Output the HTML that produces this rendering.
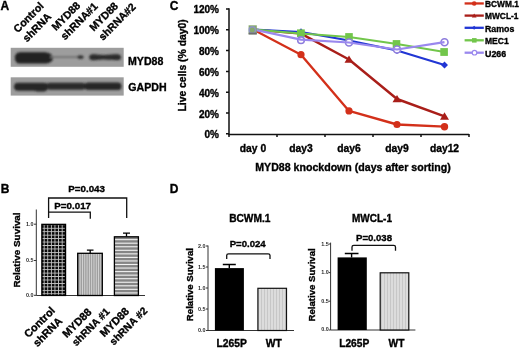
<!DOCTYPE html>
<html><head><meta charset="utf-8">
<style>
html,body{margin:0;padding:0;background:#fff;}
body{width:520px;height:348px;overflow:hidden;}
svg{display:block;will-change:transform;}
text{font-family:"Liberation Sans",sans-serif;font-weight:bold;fill:#000;stroke:#000;stroke-width:0.35px;}
.tk text{font-weight:bold;stroke:none;fill:#2a2a2a;}
</style></head><body>
<svg width="520" height="348" viewBox="0 0 520 348">
<defs>
  <filter id="blur1" x="-20%" y="-50%" width="140%" height="200%"><feGaussianBlur stdDeviation="0.9"/></filter>
  <filter id="blur2" x="-20%" y="-50%" width="140%" height="200%"><feGaussianBlur stdDeviation="0.6"/></filter>
  <pattern id="grid" x="40.1" y="224.35" width="3.6" height="3.45" patternUnits="userSpaceOnUse">
    <rect width="3.6" height="3.45" fill="#c4c4c4"/>
    <rect x="0.9" y="0.9" width="2.7" height="2.55" fill="#080808"/>
  </pattern>
  <pattern id="vstripe" x="79.2" y="0" width="2.35" height="10" patternUnits="userSpaceOnUse">
    <rect width="2.35" height="10" fill="#a0a0a0"/>
    <rect x="0" width="0.9" height="10" fill="#d2d2d2"/>
  </pattern>
  <pattern id="hstripe" x="0" y="238.6" width="10" height="3.6" patternUnits="userSpaceOnUse">
    <rect width="10" height="3.6" fill="#888"/>
    <rect y="0.5" width="10" height="1" fill="#eee"/>
  </pattern>
  <pattern id="vlight" x="0" y="0" width="3" height="10" patternUnits="userSpaceOnUse">
    <rect width="3" height="10" fill="#dcdcdc"/>
    <rect x="0" width="0.8" height="10" fill="#c2c2c2"/>
  </pattern>
</defs>

<!-- ============ Panel A ============ -->
<text x="0.6" y="9.7" font-size="12">A</text>
<g font-size="10.6">
  <g transform="translate(17.8,33.2) rotate(-45)"><text x="0" y="0">Control</text><text x="0" y="13">shRNA</text></g>
  <g transform="translate(55.9,31.2) rotate(-45)"><text x="0" y="0">MYD88</text><text x="0" y="13">shRNA#1</text></g>
  <g transform="translate(93.8,31.7) rotate(-45)"><text x="0" y="0">MYD88</text><text x="0" y="13">shRNA#2</text></g>
</g>
<!-- blots -->
<rect x="10.7" y="47.8" width="113" height="19" fill="#9d9d9d"/>
<rect x="10.7" y="77.3" width="113" height="18.3" fill="#9d9d9d"/>
<g filter="url(#blur1)">
  <path d="M20,52.2 H45 C50,52.4 53,55.5 53,58 C53,60.5 50,63.4 45,63.6 H20 C16.6,63.6 14.8,60.8 14.8,57.9 C14.8,55 16.6,52.2 20,52.2Z" fill="#202020"/>
  <rect x="50" y="56.2" width="30" height="1.8" fill="#707070"/>
  <ellipse cx="80.5" cy="57.1" rx="3.2" ry="1.9" fill="#333"/>
  <path d="M92.5,54.2 C96,54.1 98,54.7 104,54.9 C110,54.8 113,54.3 117.5,54.3 C120,54.2 121,55.8 121,57.2 C121,58.8 120,60.2 117.5,60.2 C113,60.2 110,59.6 104,59.5 C98,59.6 96,60.3 92.5,60.3 C90.3,60.2 89.2,58.8 89.2,57.2 C89.2,55.6 90.3,54.2 92.5,54.2Z" fill="#2a2a2a"/>
  <rect x="14" y="82.8" width="34" height="8" rx="4" fill="#262626"/>
  <rect x="34" y="85.5" width="13" height="6" rx="3" fill="#262626"/>
  <rect x="46.5" y="82.8" width="39" height="7" rx="3" fill="#2a2a2a"/>
  <rect x="84.5" y="82.6" width="37" height="7.4" rx="3.5" fill="#262626"/>
</g>
<text x="128" y="64.5" font-size="10.6">MYD88</text>
<text x="128.3" y="90.6" font-size="10.6">GAPDH</text>

<!-- ============ Panel C ============ -->
<text x="169.8" y="9.5" font-size="12">C</text>
<text transform="translate(186.3,65.4) rotate(-90)" text-anchor="middle" font-size="10.4">Live cells (% day0)</text>
<g font-size="10" text-anchor="end">
  <text x="219" y="13.1">120%</text>
  <text x="219" y="34">100%</text>
  <text x="219" y="54.8">80%</text>
  <text x="219" y="75.7">60%</text>
  <text x="219" y="96.6">40%</text>
  <text x="219" y="117.5">20%</text>
  <text x="219" y="138.4">0%</text>
</g>
<g stroke="#111" stroke-width="1.5" fill="none">
  <path d="M229,8.3 V134.5 H469"/>
  <path d="M226,9 H229 M226,29.8 H229 M226,50.6 H229 M226,71.4 H229 M226,92.2 H229 M226,113 H229 M226,133.8 H229"/>
  <path d="M229,134 V137 M277,134 V137 M325,134 V137 M373,134 V137 M421,134 V137 M469,134 V137"/>
</g>
<g font-size="10.3" text-anchor="middle">
  <text x="253" y="151.7">day 0</text>
  <text x="301" y="151.7">day3</text>
  <text x="349" y="151.7">day6</text>
  <text x="397" y="151.7">day9</text>
  <text x="444.5" y="151.7">day12</text>
</g>
<text x="353" y="171" font-size="10.6" text-anchor="middle">MYD88 knockdown (days after sorting)</text>

<!-- series -->
<g fill="none" stroke-width="2.2" stroke-linejoin="round">
  <polyline points="253,29.5 301,54.7 349,110.9 397,124.5 444.5,126.7" stroke="#d3301a" stroke-width="2.35"/>
  <polyline points="253,29.5 301,33.6 349,59.5 397,99 444.5,116.3" stroke="#a91e19" stroke-width="2.4"/>
  <polyline points="253,29.5 301,32 349,40.5 397,50.5 444.5,65" stroke="#2136d4"/>
  <polyline points="253,29.5 301,33.5 349,37 397,44 444.5,52" stroke="#72c64b"/>
</g>
<g fill="#d3301a">
  <circle cx="301" cy="54.7" r="3.6"/>
  <circle cx="349" cy="110.9" r="3.6"/>
  <circle cx="397" cy="124.5" r="3.6"/>
  <circle cx="444.5" cy="126.7" r="3.7"/>
</g>
<path d="M349,55.4 L353.5,62.8 344.5,62.8Z M397,95 L401.5,102.2 392.5,102.2Z M444.5,112.3 L449,119.8 440,119.8Z" fill="#a91e19"/>
<path d="M444.5,61.5 L448,65 444.5,68.5 441,65Z M397,47 L400.5,50.5 397,54 393.5,50.5Z M301,28.3 L304.5,32 301,35.5 297.5,32Z" fill="#2136d4"/>
<g fill="#72c64b">
  <rect x="440.3" y="48.1" width="7.6" height="7.8"/>
  <rect x="392.7" y="40.1" width="7.6" height="7.8"/>
  <rect x="345.2" y="33.1" width="7.6" height="7.8"/>
  <rect x="297" y="29.4" width="7.8" height="7.6"/>
</g>
<g fill="#fff" stroke="#8d7cdc" stroke-width="1.6">
  <circle cx="444.5" cy="42.2" r="3.5"/>
  <circle cx="397" cy="49.5" r="3.5"/>
  <circle cx="349" cy="42.5" r="3.5"/>
  <circle cx="301" cy="40.2" r="3.3"/>
</g>
<polyline points="253,29.5 301,39.7 349,42.5 397,49.5 444.5,42.2" stroke="#9a88ee" fill="none" stroke-width="2.2" stroke-linejoin="round"/>
<g>
<rect x="248.6" y="25.3" width="8.2" height="9" fill="#86a86c"/>
<circle cx="252.3" cy="30" r="3.2" fill="none" stroke="#8f8fd8" stroke-width="1.4" opacity="0.8"/>
<rect x="248.6" y="32.6" width="8.2" height="1.9" fill="#6e6e72"/>
</g>
<!-- legend -->
<g stroke-width="2.3">
  <line x1="464.6" y1="3.45" x2="483.8" y2="3.45" stroke="#d3301a"/>
  <line x1="464.6" y1="15.6" x2="483.8" y2="15.6" stroke="#a91e19"/>
  <line x1="464.6" y1="27.8" x2="483.8" y2="27.8" stroke="#2136d4"/>
  <line x1="464.6" y1="40.3" x2="483.8" y2="40.3" stroke="#72c64b"/>
  <line x1="464.6" y1="52.7" x2="483.8" y2="52.7" stroke="#9a88ee"/>
</g>
<circle cx="474.2" cy="3.45" r="2.3" fill="#d3301a"/>
<path d="M474.2,13.6 L476.6,17.6 471.8,17.6Z" fill="#a91e19"/>
<path d="M474.1,25.8 L476.1,27.8 474.1,29.8 472.1,27.8Z" fill="#2136d4"/>
<rect x="472" y="38.1" width="4.6" height="4.5" fill="#72c64b"/>
<circle cx="474.5" cy="52.7" r="2.3" fill="#fff" stroke="#9a88ee" stroke-width="1.2"/>
<g font-size="8.9">
  <text transform="translate(485,6.9) scale(0.94,1)">BCWM.1</text>
  <text transform="translate(485,19.4) scale(0.94,1)">MWCL-1</text>
  <text transform="translate(485,32) scale(0.99,1)">Ramos</text>
  <text transform="translate(485,44.4) scale(0.96,1)">MEC1</text>
  <text transform="translate(485,56.8) scale(1,1)">U266</text>
</g>

<!-- ============ Panel B ============ -->
<text x="0.7" y="192.6" font-size="12">B</text>
<text x="86.6" y="191.6" font-size="9.8" text-anchor="middle">P=0.043</text>
<text x="72.7" y="208.5" font-size="9.8" text-anchor="middle">P=0.017</text>
<g stroke="#111" stroke-width="1.3" fill="none">
  <path d="M48.6,218 V198 H126.7 V218"/>
  <path d="M48.6,212.2 H90.3 V218.7"/>
</g>
<text transform="translate(19.9,250) rotate(-90)" text-anchor="middle" font-size="9.9">Relative Suvival</text>
<g class="tk" font-size="5.4" text-anchor="end">
  <text x="33.5" y="226">1.0</text>
  <text x="33.5" y="262.3">0.5</text>
  <text x="33.5" y="297.3">0.0</text>
</g>
<g stroke="#333" stroke-width="1" fill="none">
  <path d="M36.3,209.5 V295.5 H145"/>
  <path d="M34,224.2 H36.3 M34,260.5 H36.3 M34,295.3 H36.3"/>
</g>
<!-- bars -->
<rect x="41.9" y="224.4" width="23.6" height="71" fill="url(#grid)" stroke="#000" stroke-width="1.4"/>
<rect x="77.7" y="253.3" width="24.6" height="42.2" fill="#9e9e9e"/><rect x="79.70" y="253.5" width="0.9" height="42" fill="#d6d6d6"/><rect x="82.00" y="253.5" width="0.9" height="42" fill="#d6d6d6"/><rect x="84.30" y="253.5" width="0.9" height="42" fill="#d6d6d6"/><rect x="86.60" y="253.5" width="0.9" height="42" fill="#d6d6d6"/><rect x="88.90" y="253.5" width="0.9" height="42" fill="#d6d6d6"/><rect x="91.20" y="253.5" width="0.9" height="42" fill="#d6d6d6"/><rect x="93.50" y="253.5" width="0.9" height="42" fill="#d6d6d6"/><rect x="95.80" y="253.5" width="0.9" height="42" fill="#d6d6d6"/><rect x="98.10" y="253.5" width="0.9" height="42" fill="#d6d6d6"/><rect x="100.40" y="253.5" width="0.9" height="42" fill="#d6d6d6"/><rect x="77.7" y="253.3" width="24.6" height="42.2" fill="none" stroke="#000" stroke-width="1.3"/>
<rect x="114.4" y="236.8" width="24" height="58.7" fill="#858585"/><rect x="114.8" y="239.10" width="23.4" height="1.1" fill="#f2f2f2"/><rect x="114.8" y="242.65" width="23.4" height="1.1" fill="#f2f2f2"/><rect x="114.8" y="246.20" width="23.4" height="1.1" fill="#f2f2f2"/><rect x="114.8" y="249.75" width="23.4" height="1.1" fill="#f2f2f2"/><rect x="114.8" y="253.30" width="23.4" height="1.1" fill="#f2f2f2"/><rect x="114.8" y="256.85" width="23.4" height="1.1" fill="#f2f2f2"/><rect x="114.8" y="260.40" width="23.4" height="1.1" fill="#f2f2f2"/><rect x="114.8" y="263.95" width="23.4" height="1.1" fill="#f2f2f2"/><rect x="114.8" y="267.50" width="23.4" height="1.1" fill="#f2f2f2"/><rect x="114.8" y="271.05" width="23.4" height="1.1" fill="#f2f2f2"/><rect x="114.8" y="274.60" width="23.4" height="1.1" fill="#f2f2f2"/><rect x="114.8" y="278.15" width="23.4" height="1.1" fill="#f2f2f2"/><rect x="114.8" y="281.70" width="23.4" height="1.1" fill="#f2f2f2"/><rect x="114.8" y="285.25" width="23.4" height="1.1" fill="#f2f2f2"/><rect x="114.8" y="288.80" width="23.4" height="1.1" fill="#f2f2f2"/><rect x="114.8" y="292.35" width="23.4" height="1.1" fill="#f2f2f2"/><rect x="114.4" y="236.8" width="24" height="58.7" fill="none" stroke="#000" stroke-width="1.3"/>
<g stroke="#000" stroke-width="1.3">
  <path d="M90.2,253 V250.2 M86.9,250.2 H93.5"/>
  <path d="M126.5,236.5 V233.2 M123,233.2 H130"/>
</g>
<g font-size="10.8">
  <g transform="translate(28.6,338.3) rotate(-45)"><text x="0" y="0">Control</text><text x="0" y="12.5">shRNA</text></g>
  <g transform="translate(66.7,338.3) rotate(-45)"><text x="0" y="0">MYD88</text><text x="1" y="12.5" font-size="10.3">shRNA #1</text></g>
  <g transform="translate(104.3,337.5) rotate(-45)"><text x="0" y="0">MYD88</text><text x="1" y="12.5" font-size="10.3">shRNA #2</text></g>
</g>

<!-- ============ Panel D ============ -->
<text x="169.8" y="193.2" font-size="12">D</text>
<!-- D1 -->
<text x="249.8" y="221.7" font-size="10.2" text-anchor="middle">BCWM.1</text>
<text x="247.7" y="247" font-size="9.6" text-anchor="middle">P=0.024</text>
<path d="M226.7,259 V255.6 Q226.7,253.8 228.5,253.8 H268.2 Q270,253.8 270,255.6 V259" stroke="#111" stroke-width="1.3" fill="none"/>
<text transform="translate(193.4,284.6) rotate(-90)" text-anchor="middle" font-size="9.6">Relative Suvival</text>
<g class="tk" font-size="5.4" text-anchor="end">
  <text x="205.6" y="247.8">2.0</text>
  <text x="205.6" y="268.8">1.5</text>
  <text x="205.6" y="289.8">1.0</text>
  <text x="205.6" y="310.8">0.5</text>
  <text x="205.6" y="332">0.0</text>
</g>
<g stroke="#333" stroke-width="1" fill="none">
  <path d="M208,245.5 V330.5 H294"/>
  <path d="M206,246 H208 M206,267 H208 M206,288 H208 M206,309 H208 M206,330.5 H208"/>
</g>
<rect x="214.9" y="268.1" width="29" height="62.4" fill="#000"/>
<path d="M229.3,268 V264.5 M222.8,264.5 H235.8" stroke="#000" stroke-width="1.4"/>
<rect x="257.9" y="288.3" width="28.6" height="42.2" fill="url(#vlight)" stroke="#111" stroke-width="1.2"/>
<g font-size="10.3" text-anchor="middle">
  <text x="231.7" y="346.9">L265P</text>
  <text x="273.8" y="346.9">WT</text>
</g>
<!-- D2 -->
<text x="372" y="221.5" font-size="10" text-anchor="middle">MWCL-1</text>
<text x="374" y="240.8" font-size="9.6" text-anchor="middle">P=0.038</text>
<path d="M352,250.8 V247.1 Q352,245.3 353.8,245.3 H393.7 Q395.5,245.3 395.5,247.1 V250.8" stroke="#111" stroke-width="1.3" fill="none"/>
<text transform="translate(315.4,284.9) rotate(-90)" text-anchor="middle" font-size="9.6">Relative Suvival</text>
<g class="tk" font-size="5.4" text-anchor="end">
  <text x="328.7" y="246">1.5</text>
  <text x="328.7" y="274.4">1.0</text>
  <text x="328.7" y="303">0.5</text>
  <text x="328.7" y="331">0.0</text>
</g>
<g stroke="#333" stroke-width="1" fill="none">
  <path d="M330.6,242.6 V330 H415.4"/>
  <path d="M328.8,244 H330.6 M328.8,272.6 H330.6 M328.8,301.2 H330.6 M328.8,330 H330.6"/>
</g>
<rect x="337.6" y="257.4" width="29.2" height="72.6" fill="#000"/>
<path d="M351.6,257.4 V253.5 M344.8,253.5 H358.5" stroke="#000" stroke-width="1.4"/>
<rect x="380.2" y="272.8" width="28.6" height="57.2" fill="url(#vlight)" stroke="#111" stroke-width="1.2"/>
<g font-size="10.2" text-anchor="middle">
  <text x="354.2" y="346.8">L265P</text>
  <text x="396.5" y="346.8">WT</text>
</g>
</svg>
</body></html>
